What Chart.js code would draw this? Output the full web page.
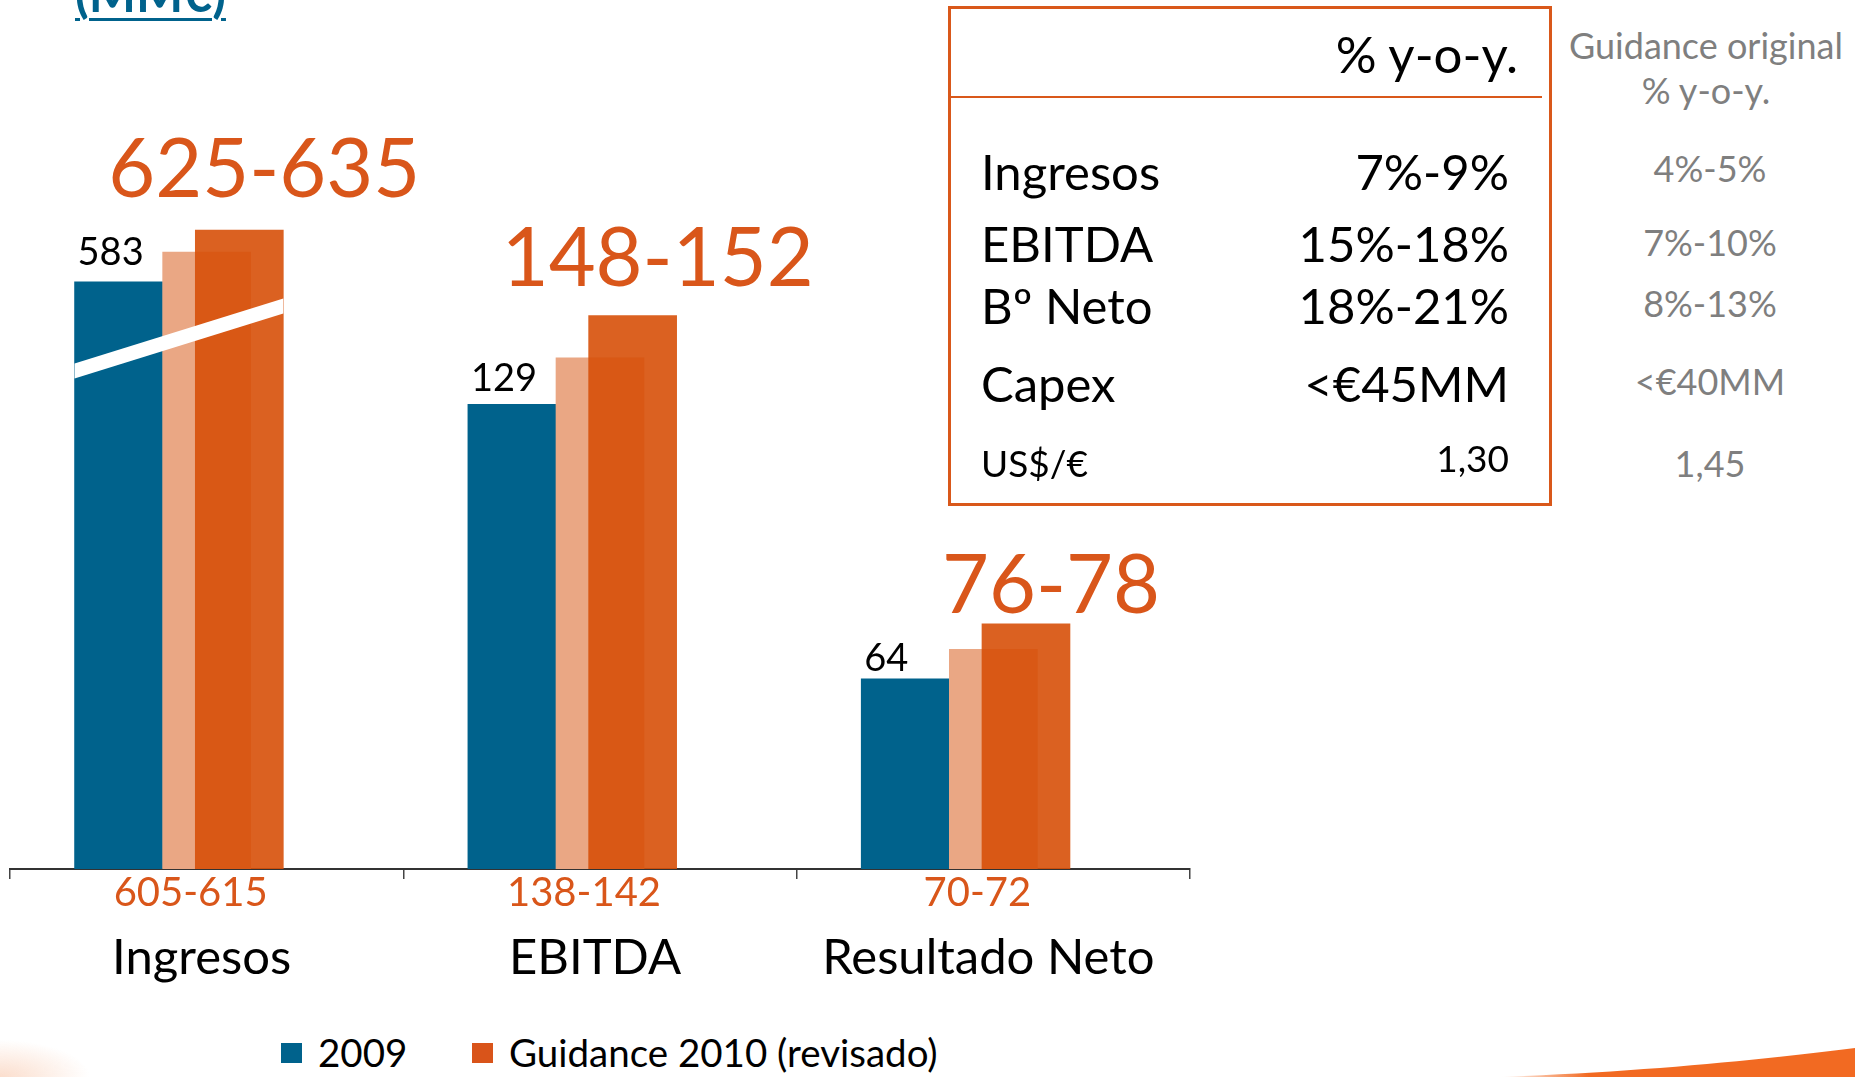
<!DOCTYPE html>
<html>
<head>
<meta charset="utf-8">
<script src="https://cdn.jsdelivr.net/npm/chart.js@4.4.1/dist/chart.umd.min.js"></script>
<style>
  html, body { margin: 0; padding: 0; background: #fff; }
  body { position: relative; width: 1855px; height: 1077px; overflow: hidden; font-family: Lato, "Open Sans", sans-serif; }
  .abs { position: absolute; white-space: nowrap; }
</style>
</head>
<body>
<div id="title" class="abs">(MM€)</div>
<div id="chartBox" class="abs" style="left:0;top:0;width:1200px;height:1027px;">
  <canvas id="chart"></canvas>
</div>
<div id="tableBox" class="abs" style="left:948px;top:6px;width:598px;height:494px;border:3px solid #D9581A;"></div>
<div id="texts"></div>
<div id="legend"></div>
<svg class="abs" style="left:0;top:0;" width="1855" height="1077">
  <defs>
    <linearGradient id="sw" x1="0" y1="0" x2="1" y2="0">
      <stop offset="0" stop-color="#F26A22" stop-opacity="0"/>
      <stop offset="0.25" stop-color="#F26A22" stop-opacity="1"/>
      <stop offset="1" stop-color="#F26A22" stop-opacity="1"/>
    </linearGradient>
    <radialGradient id="corner" cx="0" cy="1" r="1">
      <stop offset="0" stop-color="#F4A070" stop-opacity="0.35"/>
      <stop offset="1" stop-color="#F4A070" stop-opacity="0"/>
    </radialGradient>
  </defs>
  <rect x="0" y="1040" width="90" height="37" fill="url(#corner)"/>
  <path d="M1500 1077 C 1640 1072, 1760 1060, 1855 1048 L 1855 1077 Z" fill="url(#sw)"/>
</svg>

<script>
// ---- data ----
const categories = ["Ingresos", "EBITDA", "Resultado Neto"];
const actual2009 = [583, 129, 64];
const originalLow = [605, 138, 70];
const originalHigh = [615, 142, 72];
const revisedLow = [625, 148, 76];
const revisedHigh = [635, 152, 78];

const tableRows = ["Ingresos", "EBITDA", "Bº Neto", "Capex", "US$/€"];
const tableRevised = ["7%-9%", "15%-18%", "18%-21%", "<€45MM", "1,30"];
const tableOriginal = ["4%-5%", "7%-10%", "8%-13%", "<€40MM", "1,45"];

// the Ingresos bars are drawn on their own (broken) axis
const brokenCategory = 0;

// ---- styles ----
const BLUE = "#00628C";
const LIGHT = "#EAA784";
const DARK = "rgba(215,80,9,0.9)";
const ORANGE_TXT = "#D9561A";
const GREY_TXT = "#7F7F7F";

const rangeLabels = originalLow.map((lo, i) => lo + "-" + originalHigh[i]);
const originalMid = originalLow.map((lo, i) => (lo + originalHigh[i]) / 2);
const revisedMid = revisedLow.map((lo, i) => (lo + revisedHigh[i]) / 2);

const series = [
  { label: "2009", values: actual2009, color: BLUE, offset: -0.224, order: 3, legend: true },
  { label: "Guidance 2010 (original)", values: originalMid, color: LIGHT, offset: 0, order: 2, legend: false },
  { label: "Guidance 2010 (revisado)", values: revisedMid, color: DARK, offset: 0.083, order: 1, legend: true },
];

const datasets = [];
series.forEach((s, si) => {
  const parts = [
    categories.map((c, i) => i).filter((i) => i === brokenCategory),
    categories.map((c, i) => i).filter((i) => i !== brokenCategory),
  ];
  parts.forEach((cats, part) => {
    datasets.push({
      label: s.label,
      seriesIndex: si,
      showInLegend: s.legend && part === 0,
      xAxisID: "x",
      yAxisID: part === 0 ? "yBreak" : "y",
      data: cats.map((i) => ({ x: i + s.offset, y: s.values[i], cat: i })),
      backgroundColor: s.color,
      borderWidth: 0,
      barThickness: 88,
      grouped: false,
      order: s.order,
    });
  });
});

// label gaps above bars (px), per category
const smallGap = [17, 13, 8];
const bigGap = [33, 29, 11];
const breakBand = { from: 502, to: 561, thickness: 15 };

const annotations = {
  id: "annotations",
  afterDatasetsDraw(chart) {
    const ctx = chart.ctx;
    const bars = {};
    chart.data.datasets.forEach((ds, di) => {
      const meta = chart.getDatasetMeta(di);
      meta.data.forEach((el, j) => {
        (bars[ds.seriesIndex] = bars[ds.seriesIndex] || [])[ds.data[j].cat] = el;
      });
    });

    // white slash = axis break
    const b0 = bars[0][brokenCategory];
    const b2 = bars[2][brokenCategory];
    const yb = chart.scales.yBreak;
    const xl = b0.x - b0.width / 2;
    const xr = b2.x + b2.width / 2;
    const yl = yb.getPixelForValue(breakBand.from);
    const yr = yb.getPixelForValue(breakBand.to);
    const h = breakBand.thickness / 2;
    ctx.save();
    ctx.fillStyle = "#fff";
    ctx.beginPath();
    ctx.moveTo(xl, yl - h);
    ctx.lineTo(xr, yr - h);
    ctx.lineTo(xr, yr + h);
    ctx.lineTo(xl, yl + h);
    ctx.closePath();
    ctx.fill();

    categories.forEach((c, i) => {
      const blue = bars[0][i];
      const dark = bars[2][i];
      ctx.fillStyle = "#000";
      ctx.font = "38px Lato";
      ctx.textAlign = "left";
      ctx.textBaseline = "alphabetic";
      ctx.fillText(String(actual2009[i]), blue.x - blue.width / 2 + 3, blue.y - smallGap[i]);

      ctx.fillStyle = ORANGE_TXT;
      ctx.font = "81px Lato";
      ctx.textAlign = "center";
      ctx.fillText(revisedLow[i] + "-" + revisedHigh[i], dark.x + 25, dark.y - bigGap[i]);
    });
    ctx.restore();
  },
};

Chart.defaults.font.family = "Lato";

const chart = new Chart(document.getElementById("chart").getContext("2d"), {
  type: "bar",
  data: { datasets: datasets },
  options: {
    responsive: true,
    maintainAspectRatio: false,
    animation: false,
    layout: { padding: { top: 100, left: 10, right: 10, bottom: 17 } },
    plugins: {
      legend: { display: false },
      tooltip: { enabled: false },
    },
    scales: {
      x: { type: "linear", min: -0.5, max: 2.5, offset: false, display: false },
      xRange: {
        type: "category",
        labels: rangeLabels,
        position: "bottom",
        weight: 0,
        offset: true,
        grid: { offset: true, drawOnChartArea: false, tickLength: 10, color: "#444", lineWidth: 1.5 },
        border: { display: true, color: "#333", width: 2 },
        ticks: {
          color: ORANGE_TXT,
          font: { size: 40, lineHeight: 1 },
          padding: -6,
          labelOffset: -16,
          autoSkip: false,
          maxRotation: 0,
        },
      },
      xName: {
        type: "category",
        labels: categories,
        position: "bottom",
        weight: 1,
        offset: true,
        grid: { display: false, drawTicks: false },
        border: { display: false },
        ticks: {
          color: "#000",
          font: { size: 49, lineHeight: 1 },
          padding: 27,
          labelOffset: -5,
          autoSkip: false,
          maxRotation: 0,
        },
      },
      y: { display: false, min: 19, max: 201 },
      yBreak: { display: false, min: 50, max: 748 },
    },
  },
  plugins: [annotations],
});

// ---- text helpers (Lato: baseline sits 0.987em below line top) ----
const texts = document.getElementById("texts");
function placeText(text, x, baseline, size, color, align, weight) {
  const el = document.createElement("div");
  el.className = "abs";
  el.textContent = text;
  el.style.fontSize = size + "px";
  el.style.lineHeight = size * 1.2 + "px";
  el.style.color = color;
  el.style.top = baseline - size * 0.987 + "px";
  if (weight) el.style.fontWeight = weight;
  if (align === "right") el.style.right = 1855 - x + "px";
  else if (align === "center") { el.style.left = x + "px"; el.style.transform = "translateX(-50%)"; }
  else el.style.left = x + "px";
  texts.appendChild(el);
  return el;
}

// title (cut at top edge)
const title = document.getElementById("title");
title.style.cssText = "left:75px;top:-37px;font-size:50px;line-height:60px;font-weight:bold;color:#00628C;text-decoration:underline;text-decoration-thickness:3px;text-underline-offset:6px;";

// guidance table
const rowBaselines = [190, 262, 324, 402, 478];
const revBaselines = [190, 262, 324, 402, 473];
const origBaselines = [183, 257, 318, 396, 478];
const rowSizes = [49, 49, 49, 49, 37];
const origSize = 36;

placeText("% y-o-y.", 1518, 73, 51, "#000", "right");
const rule = document.createElement("div");
rule.className = "abs";
rule.style.cssText = "left:951px;top:96px;width:591px;height:2px;background:#D9581A;";
texts.appendChild(rule);
placeText("Guidance original", 1706, 60, origSize, GREY_TXT, "center");
placeText("% y-o-y.", 1706, 105, origSize, GREY_TXT, "center");

tableRows.forEach((r, i) => {
  placeText(r, 981, rowBaselines[i], rowSizes[i], "#000", "left");
  placeText(tableRevised[i], 1509, revBaselines[i], rowSizes[i], "#000", "right");
  placeText(tableOriginal[i], 1710, origBaselines[i], origSize, GREY_TXT, "center");
});

// custom legend
const legendX = [281, 472];
const legendItems = chart.options.plugins.legend.labels
  .generateLabels(chart)
  .filter((item) => chart.data.datasets[item.datasetIndex].showInLegend)
  .sort((a, b) => a.datasetIndex - b.datasetIndex);
const legend = document.getElementById("legend");
legendItems.forEach((item, k) => {
  const box = document.createElement("div");
  box.className = "abs";
  box.style.cssText = `left:${legendX[k]}px;top:1043px;width:21px;height:20px;background:${k === 0 ? BLUE : "#D9541A"};`;
  legend.appendChild(box);
  placeText(item.text, legendX[k] + 37, 1067, 38.5, "#000", "left");
});
</script>
</body>
</html>
